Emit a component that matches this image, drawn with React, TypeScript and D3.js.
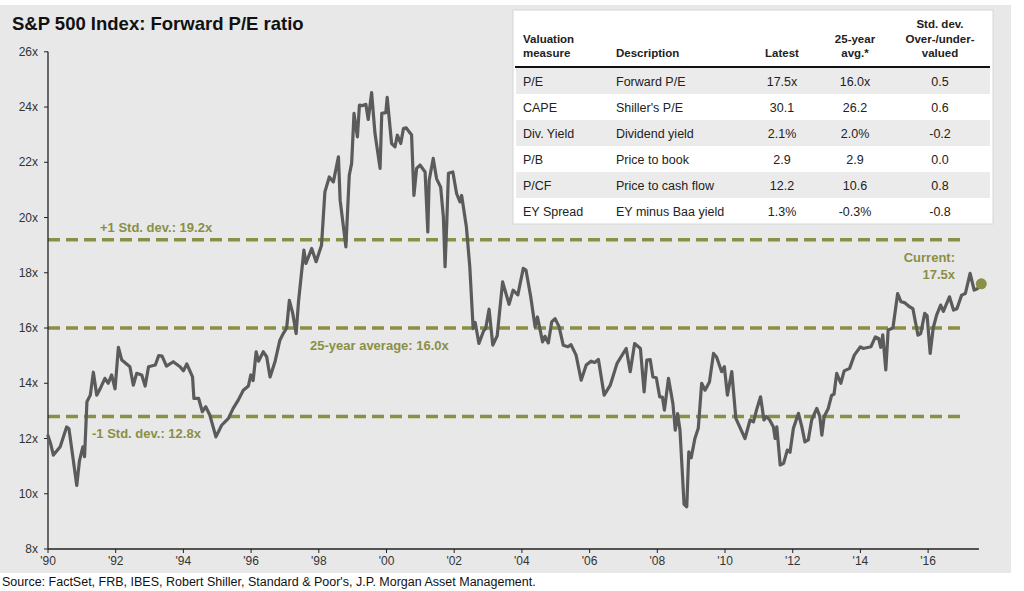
import React from "react";
import * as d3 from "d3";

// ---- Data ----
const peDates: number[] = [
  1990.0, 1990.08, 1990.16, 1990.36, 1990.55, 1990.62, 1990.85, 1990.93, 1991.03, 1991.08,
  1991.15, 1991.25, 1991.34, 1991.44, 1991.54, 1991.68, 1991.78, 1991.88, 1991.98, 1992.08,
  1992.18, 1992.42, 1992.52, 1992.62, 1992.77, 1992.87, 1992.97, 1993.17, 1993.27, 1993.37,
  1993.5, 1993.7, 1993.9, 1994.0, 1994.1, 1994.27, 1994.31, 1994.45, 1994.56, 1994.66,
  1994.78, 1994.96, 1995.13, 1995.33, 1995.47, 1995.62, 1995.77, 1995.92, 1995.99, 1996.06,
  1996.15, 1996.22, 1996.36, 1996.46, 1996.56, 1996.71, 1996.85, 1996.95, 1997.05, 1997.13,
  1997.23, 1997.33, 1997.4, 1997.56, 1997.62, 1997.79, 1997.92, 1998.08, 1998.18, 1998.31,
  1998.43, 1998.58, 1998.63, 1998.8, 1998.9, 1998.97, 1999.04, 1999.14, 1999.2, 1999.28,
  1999.39, 1999.46, 1999.56, 1999.66, 1999.81, 1999.86, 1999.98, 2000.02, 2000.15, 2000.25,
  2000.32, 2000.42, 2000.5, 2000.58, 2000.67, 2000.74, 2000.81, 2000.89, 2000.99, 2001.14,
  2001.22, 2001.26, 2001.38, 2001.48, 2001.6, 2001.68, 2001.73, 2001.78, 2001.83, 2001.96,
  2002.07, 2002.17, 2002.22, 2002.36, 2002.46, 2002.56, 2002.62, 2002.73, 2002.87, 2002.93,
  2003.03, 2003.14, 2003.27, 2003.43, 2003.62, 2003.74, 2003.88, 2004.04, 2004.12, 2004.26,
  2004.39, 2004.46, 2004.61, 2004.68, 2004.78, 2004.88, 2004.98, 2005.1, 2005.22, 2005.36,
  2005.45, 2005.6, 2005.75, 2005.9, 2006.04, 2006.15, 2006.26, 2006.43, 2006.61, 2006.81,
  2007.08, 2007.2, 2007.33, 2007.5, 2007.61, 2007.69, 2007.79, 2007.87, 2007.97, 2008.07,
  2008.15, 2008.21, 2008.33, 2008.46, 2008.53, 2008.6, 2008.67, 2008.79, 2008.87, 2008.93,
  2009.0, 2009.11, 2009.21, 2009.31, 2009.41, 2009.54, 2009.66, 2009.75, 2009.9, 2009.98,
  2010.07, 2010.2, 2010.32, 2010.44, 2010.59, 2010.74, 2010.84, 2010.93, 2011.05, 2011.15,
  2011.22, 2011.32, 2011.43, 2011.48, 2011.53, 2011.63, 2011.73, 2011.84, 2011.92, 2012.02,
  2012.17, 2012.27, 2012.36, 2012.46, 2012.56, 2012.71, 2012.8, 2012.86, 2012.93, 2013.05,
  2013.15, 2013.22, 2013.3, 2013.42, 2013.52, 2013.68, 2013.82, 2014.0, 2014.08, 2014.31,
  2014.44, 2014.54, 2014.6, 2014.66, 2014.75, 2014.82, 2014.96, 2015.1, 2015.2, 2015.3,
  2015.45, 2015.55, 2015.7, 2015.78, 2015.9, 2015.97, 2016.06, 2016.15, 2016.25, 2016.37,
  2016.45, 2016.63, 2016.75, 2016.85, 2016.99, 2017.1, 2017.24, 2017.36, 2017.46,
];

const peValues: number[] = [
  12.1, 11.8, 11.4, 11.7, 12.42, 12.35, 10.3, 11.2, 11.7, 11.34,
  13.33, 13.57, 14.4, 13.57, 13.8, 14.18, 14.0, 14.3, 13.8, 15.3,
  14.84, 14.6, 13.93, 14.36, 14.3, 13.9, 14.6, 14.66, 15.0, 14.98,
  14.62, 14.78, 14.6, 14.45, 14.7, 14.23, 13.45, 13.45, 12.97, 13.15,
  12.85, 12.06, 12.48, 12.73, 13.09, 13.39, 13.75, 13.9, 14.3, 14.1,
  15.14, 14.8, 15.14, 14.96, 14.23, 14.8, 15.56, 15.8, 16.0, 17.0,
  16.53, 15.8, 16.95, 18.82, 18.34, 18.88, 18.4, 19.0, 20.93, 21.47,
  21.29, 22.2, 20.63, 18.94, 21.53, 21.96, 23.77, 22.92, 24.07, 24.05,
  24.1, 23.55, 24.52, 23.04, 21.78, 23.77, 23.8, 24.35, 22.68, 22.56,
  22.98, 22.68, 23.22, 23.25, 23.1, 23.0, 20.8, 21.78, 21.9, 21.65,
  19.48, 21.35, 22.14, 21.4, 21.1, 20.02, 18.22, 19.8, 21.6, 21.65,
  20.87, 20.57, 20.8, 19.66, 18.22, 15.98, 16.2, 15.44, 15.9, 15.98,
  16.68, 15.38, 15.72, 17.67, 16.86, 17.37, 17.2, 18.16, 18.1, 17.13,
  16.04, 16.4, 15.5, 15.7, 15.46, 16.22, 16.34, 16.04, 15.38, 15.32,
  15.4, 15.02, 14.11, 14.66, 14.8, 14.75, 14.86, 13.57, 13.93, 14.72,
  15.26, 14.42, 15.44, 15.26, 13.69, 14.84, 14.86, 14.23, 14.2, 13.51,
  13.5, 13.03, 14.18, 13.27, 12.3, 12.9, 12.3, 9.62, 9.53, 11.52,
  11.3, 12.0, 12.37, 14.0, 13.75, 14.05, 15.08, 14.95, 14.42, 14.6,
  13.57, 14.42, 12.73, 12.4, 12.0, 12.67, 12.6, 13.03, 13.51, 12.67,
  12.8, 12.67, 12.42, 12.0, 12.42, 11.04, 11.1, 11.58, 11.5, 12.37,
  12.91, 12.42, 11.88, 11.95, 12.67, 13.09, 12.8, 12.12, 12.8, 13.09,
  13.57, 13.6, 14.36, 14.0, 14.45, 14.54, 15.02, 15.32, 15.26, 15.32,
  15.68, 15.62, 15.3, 15.75, 14.48, 15.93, 16.0, 17.25, 16.95, 16.92,
  16.77, 16.7, 15.74, 15.8, 16.53, 16.45, 15.08, 16.0, 16.47, 16.83,
  16.6, 17.13, 16.65, 16.7, 17.19, 17.25, 17.98, 17.37, 17.43,
];

const currentDate = 2017.57;
const currentValue = 17.6;
const currentLabel = "17.5x";

const refLevels: number[] = [19.2, 16.0, 12.8];
const refLabels: string[] = ["+1 Std. dev.: 19.2x", "25-year average: 16.0x", "-1 Std. dev.: 12.8x"];

const yTicks: number[] = [8, 10, 12, 14, 16, 18, 20, 22, 24, 26];
const xTicks: number[] = [1990, 1992, 1994, 1996, 1998, 2000, 2002, 2004, 2006, 2008, 2010, 2012, 2014, 2016];

const tableHeaders: string[][] = [
  ["Valuation", "measure"],
  ["Description"],
  ["Latest"],
  ["25-year", "avg.*"],
  ["Std. dev.", "Over-/under-", "valued"],
];
const tableMeasures: string[] = ["P/E", "CAPE", "Div. Yield", "P/B", "P/CF", "EY Spread"];
const tableDescriptions: string[] = ["Forward P/E", "Shiller's P/E", "Dividend yield", "Price to book", "Price to cash flow", "EY minus Baa yield"];
const tableLatest: string[] = ["17.5x", "30.1", "2.1%", "2.9", "12.2", "1.3%"];
const tableAvg: string[] = ["16.0x", "26.2", "2.0%", "2.9", "10.6", "-0.3%"];
const tableStd: string[] = ["0.5", "0.6", "-0.2", "0.0", "0.8", "-0.8"];

const FONT = "'Liberation Sans', Arial, Helvetica, sans-serif";
const OLIVE = "#8b8f45";
const LINE = "#5b5b5b";

export default function App() {
  const x = d3.scaleLinear().domain([1990, 2017.5]).range([48, 978.9]);
  const y = d3.scaleLinear().domain([8, 26]).range([549, 51.8]);

  const pts: [number, number][] = peDates.map((d, i) => [d, peValues[i]]);
  const line = d3
    .line<[number, number]>()
    .x((d) => x(d[0]))
    .y((d) => y(d[1]));

  const refLabelPos = [
    { x: 100, dy: -8 },
    { x: 310, dy: 22 },
    { x: 92, dy: 22 },
  ];

  // table layout
  const tX0 = 513;
  const tX1 = 993;
  const tTop = 10;
  const headerLine = 67;
  const rowH = 26;
  const colX = [523, 616, 782, 855, 940];
  const colAnchor = ["start", "start", "middle", "middle", "middle"];
  const rows = tableMeasures.map((m, i) => [m, tableDescriptions[i], tableLatest[i], tableAvg[i], tableStd[i]]);

  return (
    <svg
      width={1024}
      height={591}
      style={{ position: "absolute", left: 0, top: 0, fontFamily: FONT }}
    >
      <rect x={0} y={0} width={1024} height={591} fill="#ffffff" />
      <rect x={0} y={5} width={1011} height={568} fill="#e8e8e8" />

      <text x={12} y={30} fontSize={18.5} fontWeight="bold" fill="#111">
        S&amp;P 500 Index: Forward P/E ratio
      </text>

      {/* reference lines */}
      {refLevels.map((v, i) => (
        <line
          key={"r" + i}
          x1={x(1990)}
          x2={966}
          y1={y(v)}
          y2={y(v)}
          stroke={OLIVE}
          strokeWidth={3.5}
          strokeDasharray="12,6"
        />
      ))}
      {refLevels.map((v, i) => (
        <text
          key={"rl" + i}
          x={refLabelPos[i].x}
          y={y(v) + refLabelPos[i].dy}
          fontSize={13}
          fontWeight="bold"
          fill={OLIVE}
        >
          {refLabels[i]}
        </text>
      ))}

      {/* axes */}
      <line x1={x(1990)} x2={x(1990)} y1={y(26)} y2={y(8)} stroke="#222" strokeWidth={1.3} />
      <line x1={x(1990)} x2={x(2017.5)} y1={y(8)} y2={y(8)} stroke="#222" strokeWidth={1.5} />
      {yTicks.map((t) => (
        <g key={"yt" + t}>
          <line x1={x(1990) - 4} x2={x(1990)} y1={y(t)} y2={y(t)} stroke="#222" strokeWidth={1} />
          <text x={38} y={y(t) + 4} fontSize={12} fill="#333" textAnchor="end">
            {t + "x"}
          </text>
        </g>
      ))}
      {xTicks.map((t) => (
        <g key={"xt" + t}>
          <line x1={x(t)} x2={x(t)} y1={y(8)} y2={y(8) + 4} stroke="#222" strokeWidth={1} />
          <text x={x(t)} y={y(8) + 16} fontSize={12} fill="#333" textAnchor="middle">
            {"'" + String(t).slice(2)}
          </text>
        </g>
      ))}

      {/* P/E line */}
      <path
        d={line(pts) || ""}
        fill="none"
        stroke={LINE}
        strokeWidth={3.2}
        strokeLinejoin="round"
        strokeLinecap="round"
      />

      {/* current */}
      <circle cx={x(currentDate)} cy={y(currentValue)} r={5.5} fill={OLIVE} />
      <text x={955} y={262} fontSize={13} fontWeight="bold" fill={OLIVE} textAnchor="end">
        Current:
      </text>
      <text x={955} y={279} fontSize={13} fontWeight="bold" fill={OLIVE} textAnchor="end">
        {currentLabel}
      </text>

      {/* table */}
      <rect x={tX0} y={tTop} width={tX1 - tX0} height={214} fill="#ffffff" stroke="#d6d6d6" strokeWidth={1} />
      {rows.map((r, i) =>
        i % 2 === 0 ? (
          <rect key={"rb" + i} x={tX0 + 3} y={headerLine + 1 + i * rowH} width={tX1 - tX0 - 6} height={rowH} fill="#ebebeb" />
        ) : null
      )}
      <line x1={tX0 + 2} x2={tX1 - 3} y1={headerLine} y2={headerLine} stroke="#111" strokeWidth={2} />
      {tableHeaders.map((h, c) =>
        h.map((s, k) => (
          <text
            key={"h" + c + "-" + k}
            x={colX[c]}
            y={57 - (h.length - 1 - k) * 14.5}
            fontSize={11.5}
            fontWeight="bold"
            fill="#222"
            textAnchor={colAnchor[c] as any}
          >
            {s}
          </text>
        ))
      )}
      {rows.map((r, i) =>
        r.map((s, c) => (
          <text
            key={"c" + i + "-" + c}
            x={colX[c]}
            y={headerLine + 1 + i * rowH + 17.5}
            fontSize={12.5}
            fill="#222"
            textAnchor={colAnchor[c] as any}
          >
            {s}
          </text>
        ))
      )}

      <text x={2} y={586} fontSize={12.5} fill="#111">
        Source: FactSet, FRB, IBES, Robert Shiller, Standard &amp; Poor's, J.P. Morgan Asset Management.
      </text>
    </svg>
  );
}
